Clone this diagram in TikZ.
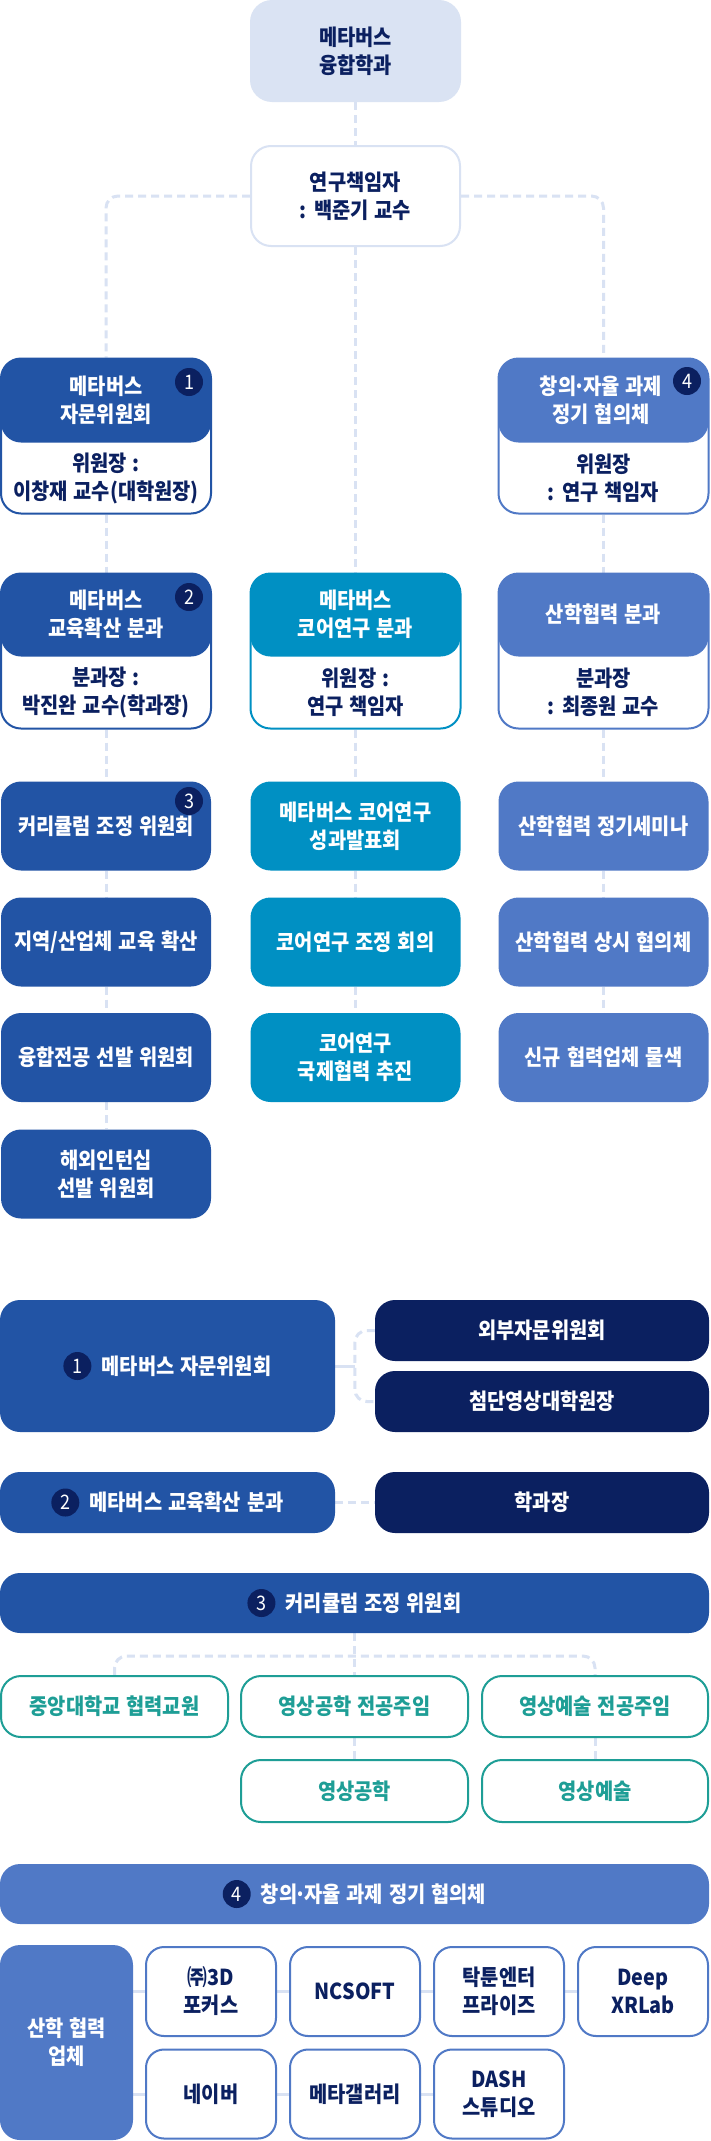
\documentclass[tikz,border=0pt]{standalone}
\usepackage{fontspec}
\setmainfont{Noto Sans CJK KR}[FakeStretch=0.9, WordSpace=1.3]
\usetikzlibrary{backgrounds}
\definecolor{cL}{HTML}{2254A5}
\definecolor{cM}{HTML}{0090C3}
\definecolor{cR}{HTML}{5079C6}
\definecolor{navy}{HTML}{0B2060}
\definecolor{cT}{HTML}{1E9E96}
\definecolor{lineC}{HTML}{D9E2F3}
\definecolor{topC}{HTML}{DAE3F3}
\newcommand{\mdot}{\kern-2.5pt·\kern-2.5pt}
\tikzset{
  base/.style={font=\fontsize{22}{28}\selectfont\bfseries, align=center, inner sep=0pt},
  fbox/.style={base, fill=#1, text=white, rounded corners=20pt},
  obox/.style={base, draw=#1, line width=2pt, fill=white, rounded corners=20pt},
  split/.style n args={2}{base, draw=#1, line width=2pt, fill=white, rounded corners=20pt,
    path picture={\fill[#1] (path picture bounding box.north west) rectangle ([yshift=-#2pt]path picture bounding box.north east);}},
  badge/.style={circle, fill=navy, text=white, minimum size=28pt, inner sep=0pt, font=\fontsize{20}{20}\selectfont},
  dl/.style={draw=lineC, line width=3pt, dash pattern=on 8pt off 5pt},
  sl/.style={draw=lineC, line width=3pt},
  colbox/.style={minimum width=210pt, minimum height=89pt},
  splitsize/.style={minimum width=210pt, minimum height=155pt},
}
\begin{document}
\begin{tikzpicture}[x=1pt,y=-1pt]
\useasboundingbox (0,0) rectangle (710,2141);

% ---------- top ----------
\node[fbox=topC, text=navy, minimum width=211pt, minimum height=102pt, rounded corners=22pt] (top) at (355.5,51) {메타버스\\융합학과};
\node[obox=lineC, text=navy, minimum width=209pt, minimum height=100pt] (pi) at (355.5,196) {연구책임자\\: 백준기 교수};

% ---------- row 1 ----------
\node[split={cL}{84}, splitsize] (l1) at (106,436) {};
\node[base, text=white] (l1h) at (106,400) {메타버스\\자문위원회};
\node[base, text=navy] (l1b) at (106,478) {위원장 :\\이창재 교수(대학원장)};
\node[badge] (b1) at (189,382) {1};

\node[split={cR}{84}, splitsize] (r1) at (603.5,436) {};
\node[base, text=white] (r1h) at (601,400) {창의\mdot 자율 과제\\정기 협의체};
\node[base, text=navy] (r1b) at (603.5,478) {위원장\\: 연구 책임자};
\node[badge] (b4) at (687,381) {4};

% ---------- row 2 ----------
\node[split={cL}{83}, splitsize] (l2) at (106,651) {};
\node[base, text=white] (l2h) at (106,614.5) {메타버스\\교육확산 분과};
\node[base, text=navy] (l2b) at (106,692.5) {분과장 :\\박진완 교수(학과장)};
\node[badge] (b2) at (189,597) {2};

\node[split={cM}{83}, splitsize] (m2) at (355.5,651) {};
\node[base, text=white] (m2h) at (355.5,614.5) {메타버스\\코어연구 분과};
\node[base, text=navy] (m2b) at (355.5,692.5) {위원장 :\\연구 책임자};

\node[split={cR}{83}, splitsize] (r2) at (603.5,651) {};
\node[base, text=white] (r2h) at (603.5,614.5) {산학협력 분과};
\node[base, text=navy] (r2b) at (603.5,692.5) {분과장\\: 최종원 교수};

% ---------- rows 3-6 ----------
\node[fbox=cL, colbox] (l3) at (106,826) {커리큘럼 조정 위원회};
\node[badge] (b3) at (189,801) {3};
\node[fbox=cM, colbox] (m3) at (355.5,826) {메타버스 코어연구\\성과발표회};
\node[fbox=cR, colbox] (r3) at (603.5,826) {산학협력 정기세미나};

\node[fbox=cL, colbox] (l4) at (106,942) {지역/산업체 교육 확산};
\node[fbox=cM, colbox] (m4) at (355.5,942) {코어연구 조정 회의};
\node[fbox=cR, colbox] (r4) at (603.5,942) {산학협력 상시 협의체};

\node[fbox=cL, colbox] (l5) at (106,1057.5) {융합전공 선발 위원회};
\node[fbox=cM, colbox] (m5) at (355.5,1057.5) {코어연구\\국제협력 추진};
\node[fbox=cR, colbox] (r5) at (603.5,1057.5) {신규 협력업체 물색};

\node[fbox=cL, colbox] (l6) at (106,1174) {해외인턴십\\선발 위원회};

% ---------- section 1 ----------
\node[fbox=cL, minimum width=335pt, minimum height=132pt] (adv) at (167.5,1366) {};
\node[base, text=white] (advT) at (186.5,1366) {메타버스 자문위원회};
\node[badge] (advB) at ([xshift=-24pt]advT.west) {1};
\node[fbox=navy, minimum width=334pt, minimum height=61pt] (ext) at (542,1330.5) {외부자문위원회};
\node[fbox=navy, minimum width=334pt, minimum height=61pt] (dean) at (542,1401.5) {첨단영상대학원장};
\coordinate (brk) at (355,1366);

% ---------- section 2 ----------
\node[fbox=cL, minimum width=335pt, minimum height=61pt] (edu) at (167.5,1502.5) {};
\node[base, text=white] (eduT) at (186.5,1502.5) {메타버스 교육확산 분과};
\node[badge] (eduB) at ([xshift=-24pt]eduT.west) {2};
\node[fbox=navy, minimum width=334pt, minimum height=61pt] (head) at (542,1502.5) {학과장};

% ---------- section 3 ----------
\node[fbox=cL, minimum width=709pt, minimum height=60pt] (cur) at (354.5,1603) {};
\node[base, text=white] (curT) at (373.5,1603) {커리큘럼 조정 위원회};
\node[badge] (curB) at ([xshift=-24pt]curT.west) {3};

\node[obox=cT, text=cT, minimum width=227pt, minimum height=61pt] (c1) at (114.5,1706.5) {중앙대학교 협력교원};
\node[obox=cT, text=cT, minimum width=227pt, minimum height=61pt] (c2) at (354.5,1706.5) {영상공학 전공주임};
\node[obox=cT, text=cT, minimum width=226pt, minimum height=61pt] (c3) at (595,1706.5) {영상예술 전공주임};
\node[obox=cT, text=cT, minimum width=227pt, minimum height=62pt] (d2) at (354.5,1791) {영상공학};
\node[obox=cT, text=cT, minimum width=226pt, minimum height=62pt] (d3) at (595,1791) {영상예술};

% ---------- section 4 ----------
\node[fbox=cR, minimum width=709pt, minimum height=60pt] (crt) at (354.5,1894) {};
\node[base, text=white] (crtT) at (373.5,1894) {창의\mdot 자율 과제 정기 협의체};
\node[badge] (crtB) at ([xshift=-24pt]crtT.west) {4};

\node[fbox=cR, minimum width=133pt, minimum height=195pt] (ind) at (66.5,2042.5) {산학 협력\\업체};
\node[obox=cR, text=navy, minimum width=130pt, minimum height=89pt, rounded corners=18pt] (f1) at (211,1991.5) {㈜3D\\포커스};
\node[obox=cR, text=navy, minimum width=130pt, minimum height=89pt, rounded corners=18pt] (f2) at (355,1991.5) {NCSOFT};
\node[obox=cR, text=navy, minimum width=130pt, minimum height=89pt, rounded corners=18pt] (f3) at (499,1991.5) {탁툰엔터\\프라이즈};
\node[obox=cR, text=navy, minimum width=130pt, minimum height=89pt, rounded corners=18pt] (f4) at (643,1991.5) {Deep\\XRLab};
\node[obox=cR, text=navy, minimum width=130pt, minimum height=89pt, rounded corners=18pt] (f5) at (211,2094) {네이버};
\node[obox=cR, text=navy, minimum width=130pt, minimum height=89pt, rounded corners=18pt] (f6) at (355,2094) {메타갤러리};
\node[obox=cR, text=navy, minimum width=130pt, minimum height=89pt, rounded corners=18pt] (f7) at (499,2094) {DASH\\스튜디오};

% ---------- connectors ----------
\begin{scope}[on background layer]
\fill[white] (0,0) rectangle (710,2141);
\draw[dl] (top.south) -- (pi.north);
\draw[dl, rounded corners=12pt] (pi.west) -| (l1.north);
\draw[dl, rounded corners=12pt] (pi.east) -| (r1.north);
\draw[dl] (pi.south) -- (m2.north);
\draw[dl] (l1.south) -- (l2.north);
\draw[dl] (r1.south) -- (r2.north);
\draw[dl] (l2.south) -- (l3.north);
\draw[dl] (m2.south) -- (m3.north);
\draw[dl] (r2.south) -- (r3.north);
\draw[dl] (l3.south) -- (l4.north);
\draw[dl] (m3.south) -- (m4.north);
\draw[dl] (r3.south) -- (r4.north);
\draw[dl] (l4.south) -- (l5.north);
\draw[dl] (m4.south) -- (m5.north);
\draw[dl] (r4.south) -- (r5.north);
\draw[dl] (l5.south) -- (l6.north);

\draw[sl] (adv.east) -- (brk);
\draw[dl, rounded corners=12pt] (ext.west) -- ++(-20,0) |- (dean.west);
\draw[dl] (edu.east) -- (head.west);
\draw[dl] (cur.south) -- (c2.north);
\draw[dl, rounded corners=12pt] (c1.north) -- ++(0,-19) -| (c3.north);
\draw[dl] (c2.south) -- (d2.north);
\draw[dl] (c3.south) -- (d3.north);

\draw[sl] (f1.west) -- (f1.west -| ind.east);
\draw[sl] (f1.east) -- (f2.west);
\draw[sl] (f2.east) -- (f3.west);
\draw[sl] (f3.east) -- (f4.west);
\draw[sl] (f5.west) -- (f5.west -| ind.east);
\draw[sl] (f5.east) -- (f6.west);
\draw[sl] (f6.east) -- (f7.west);
\end{scope}
\end{tikzpicture}
\end{document}
